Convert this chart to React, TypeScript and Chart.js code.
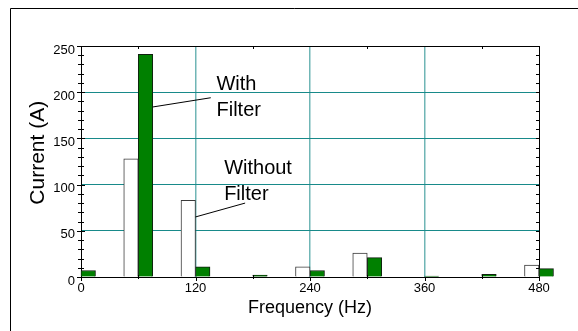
import React, { useEffect, useRef } from "react";
import { Chart, registerables } from "chart.js";

Chart.register(...registerables);

// Harmonic spectrum of the supply current, in Hz and amperes
const frequencies = [0, 60, 120, 180, 240, 300, 360, 420, 480];
const withoutFilter: (number | null)[] = [null, 128, 83, null, 11, 26, null, null, 13];
const withFilter: (number | null)[] = [7, 241, 11, 2, 7, 21, 1, 3, 9];

const xTickLabels = [0, 120, 240, 360, 480];
const yTickLabels = [0, 50, 100, 150, 200, 250];

const FONT = "'Liberation Sans', Arial, Helvetica, sans-serif";

// Callout labels, positioned in data units (Hz, A); the leader starts at the bar's right edge
const callouts = [
  { lines: ["With", "Filter"], text: [142, 202], lineFromY: 184, lineTo: [136, 194], dataset: 1, index: 1 },
  { lines: ["Without", "Filter"], text: [150, 111.5], lineFromY: 65, lineTo: [172, 80], dataset: 0, index: 2 },
];

const decorations = {
  id: "decorations",
  beforeDraw(chart: any) {
    const { ctx } = chart;
    ctx.save();
    ctx.fillStyle = "#fff";
    ctx.fillRect(0, 0, chart.width, chart.height);
    ctx.strokeStyle = "#000";
    ctx.lineWidth = 1;
    ctx.beginPath();
    ctx.moveTo(10.5, chart.height);
    ctx.lineTo(10.5, 8.5);
    ctx.lineTo(chart.width, 8.5);
    ctx.stroke();
    ctx.restore();
  },
  afterDraw(chart: any) {
    const { ctx, chartArea: a, scales } = chart;
    const x = scales.x;
    const y = scales.y;
    ctx.save();
    ctx.strokeStyle = "#000";
    ctx.lineWidth = 1;
    ctx.beginPath();
    for (let v = 0; v <= 250; v += 10) {
      const py = Math.round(y.getPixelForValue(v)) + 0.5;
      const len = v % 50 === 0 ? 4 : 3;
      ctx.moveTo(a.left - len, py);
      ctx.lineTo(a.left + len, py);
      ctx.moveTo(a.right - 3, py);
      ctx.lineTo(a.right, py);
    }
    for (let f = 0; f <= 480; f += 60) {
      const px = Math.round(x.getPixelForValue(f)) + 0.5;
      if (f % 120 === 0) {
        ctx.moveTo(px, a.bottom);
        ctx.lineTo(px, a.bottom + 4);
      } else {
        ctx.moveTo(px, a.bottom - 2);
        ctx.lineTo(px, a.bottom + 2);
        ctx.moveTo(px, a.top);
        ctx.lineTo(px, a.top + 3);
      }
    }
    ctx.stroke();

    // callouts
    ctx.font = `20px ${FONT}`;
    ctx.fillStyle = "#000";
    ctx.textAlign = "left";
    ctx.textBaseline = "alphabetic";
    for (const c of callouts) {
      const bar = chart.getDatasetMeta(c.dataset).data[c.index];
      const x0 = bar.x + bar.width / 2;
      ctx.beginPath();
      ctx.moveTo(x0, y.getPixelForValue(c.lineFromY));
      ctx.lineTo(x.getPixelForValue(c.lineTo[0]), y.getPixelForValue(c.lineTo[1]));
      ctx.stroke();
      const tx = x.getPixelForValue(c.text[0]);
      const ty = y.getPixelForValue(c.text[1]);
      c.lines.forEach((line, i) => ctx.fillText(line, tx, ty + i * 26));
    }
    ctx.restore();
  },
};

export default function App() {
  const ref = useRef<HTMLCanvasElement>(null);

  useEffect(() => {
    const canvas = ref.current;
    if (!canvas) return;
    const chart = new Chart(canvas, {
      type: "bar",
      data: {
        datasets: [
          {
            label: "Without Filter",
            data: frequencies.map((f, i) => ({ x: f, y: withoutFilter[i] })) as any,
            backgroundColor: "#ffffff",
            borderColor: "#3a3a3a",
            borderWidth: 1,
            borderSkipped: "bottom",
            barThickness: 14.5,
            clip: false as any,
          },
          {
            label: "With Filter",
            data: frequencies.map((f, i) => ({ x: f, y: withFilter[i] })) as any,
            backgroundColor: "#008000",
            borderColor: "#102010",
            borderWidth: 1,
            borderSkipped: "bottom",
            barThickness: 14.5,
            clip: false as any,
          },
        ],
      },
      options: {
        responsive: false,
        animation: false,
        events: [],
        layout: { padding: { top: 46, right: 39, left: 0, bottom: 0 } },
        plugins: { legend: { display: false }, tooltip: { enabled: false } },
        scales: {
          x: {
            type: "linear",
            min: 0,
            max: 480,
            offset: false,
            grid: {
              offset: false,
              drawTicks: false,
              color: (c: any) => {
                const v = c.tick?.value;
                if (v === 0 || v === 480) return "#000";
                if (v % 120 === 0) return "rgb(112,182,182)";
                return "rgba(0,0,0,0)";
              },
              lineWidth: (c: any) => {
                const v = c.tick?.value;
                if (v === 0 || v === 480) return 1;
                return 1.5;
              },
            },
            border: { display: true, color: "#000", width: 1 },
            ticks: {
              stepSize: 60,
              autoSkip: false,
              maxRotation: 0,
              padding: 4,
              color: "#000",
              font: { family: FONT, size: 13 },
              callback: (v: any) => (xTickLabels.includes(Number(v)) ? String(v) : ""),
            },
            title: {
              display: true,
              text: "Frequency (Hz)",
              color: "#000",
              font: { family: FONT, size: 18 },
              padding: { top: 0, bottom: 12 },
            },
            afterFit: (s: any) => {
              s.height = 54;
            },
          } as any,
          y: {
            min: 0,
            max: 250,
            grid: {
              drawTicks: false,
              color: (c: any) => {
                const v = c.tick?.value;
                if (v === 0 || v === 250) return "#000";
                if (v % 50 === 0) return "rgb(24,138,138)";
                return "rgba(0,0,0,0)";
              },
              lineWidth: 1,
            },
            border: { display: true, color: "#000", width: 1 },
            ticks: {
              stepSize: 10,
              autoSkip: false,
              padding: 6,
              labelOffset: 4,
              color: "#000",
              font: { family: FONT, size: 13 },
              callback: (v: any) => (yTickLabels.includes(Number(v)) ? String(v) : ""),
            },
            title: {
              display: true,
              text: "   Current (A)",
              color: "#000",
              font: { family: FONT, size: 21 },
              padding: { top: 26, bottom: 0 },
            },
            afterFit: (s: any) => {
              s.width = 81;
            },
          } as any,
        },
      },
      plugins: [decorations],
    });
    return () => chart.destroy();
  }, []);

  return (
    <div style={{ position: "fixed", left: 0, top: 0, width: 578, height: 331, background: "#fff" }}>
      <canvas ref={ref} width={578} height={331} style={{ display: "block", width: 578, height: 331 }} />
    </div>
  );
}
